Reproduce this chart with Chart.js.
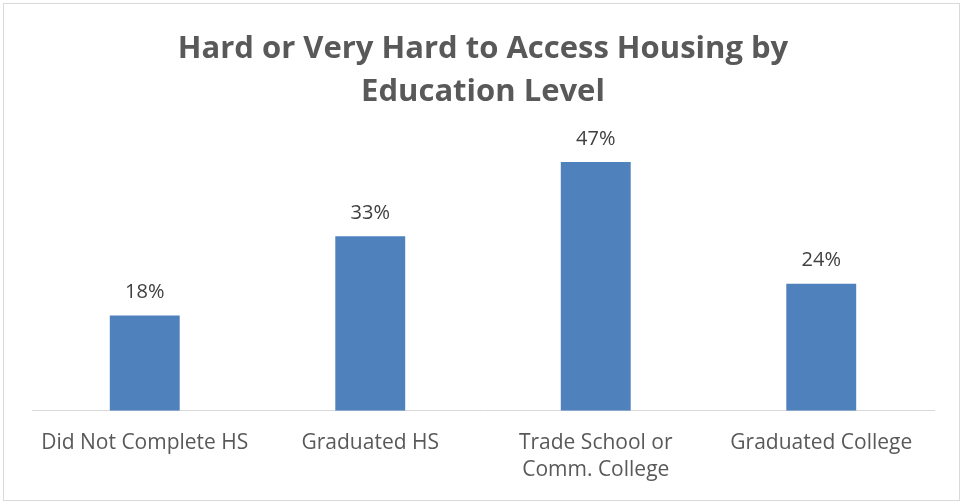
<!DOCTYPE html>
<html>
<head>
<meta charset="utf-8">
<script src="https://cdn.jsdelivr.net/npm/chart.js@4.4.1/dist/chart.umd.min.js"></script>
<style>
  html, body { margin: 0; padding: 0; background: #fff; }
  #wrap { width: 963px; height: 504px; }
</style>
</head>
<body>
<div id="wrap"><canvas id="housing" width="963" height="504"></canvas></div>
<script>
  "use strict";
  var titleLines = ["Hard or Very Hard to Access Housing by", "Education Level"];
  var categories = [
    "Did Not Complete HS",
    "Graduated HS",
    ["Trade School or", "Comm. College"],
    "Graduated College",
  ];
  var hardPct = [18, 33, 47, 24];

  var FONT = '"Open Sans", "DejaVu Sans", sans-serif';
  var GREY = "#595959";

  // light frame round the whole chart
  var frame = {
    id: "frame",
    beforeDraw: function (c) {
      var x = c.ctx;
      x.save();
      x.fillStyle = "#fff";
      x.fillRect(0, 0, c.width, c.height);
      x.strokeStyle = "#d9d9d9";
      x.lineWidth = 1;
      x.strokeRect(3.5, 3.5, c.width - 7, c.height - 7);
      x.restore();
    },
  };

  // percentage printed over each bar
  var valueLabels = {
    id: "valueLabels",
    afterDatasetsDraw: function (c) {
      var x = c.ctx,
        meta = c.getDatasetMeta(0),
        data = c.data.datasets[0].data;
      x.save();
      x.font = "20px " + FONT;
      x.fillStyle = "#404040";
      x.textAlign = "center";
      x.textBaseline = "middle";
      meta.data.forEach(function (bar, i) {
        x.fillText(data[i] + "%", bar.x, bar.y - 23);
      });
      x.restore();
    },
  };

  new Chart(document.getElementById("housing").getContext("2d"), {
    type: "bar",
    data: {
      labels: categories,
      datasets: [
        {
          data: hardPct,
          backgroundColor: "#4f81bd",
          borderWidth: 0,
          barPercentage: 0.31,
          categoryPercentage: 1,
        },
      ],
    },
    options: {
      responsive: false,
      animation: false,
      layout: { padding: { left: 32, right: 29, top: 0, bottom: 1 } },
      plugins: {
        legend: { display: false },
        tooltip: { enabled: false },
        title: {
          display: true,
          text: titleLines,
          color: GREY,
          font: { family: FONT, size: 31, weight: "bold", lineHeight: 1.39 },
          padding: { top: 28, bottom: 32 },
        },
      },
      scales: {
        y: { display: false, min: 0, max: 50 },
        x: {
          grid: { display: false, drawTicks: false },
          border: { display: true, color: "#d9d9d9", width: 1 },
          ticks: {
            color: GREY,
            font: { family: FONT, size: 21, lineHeight: 1.29 },
            padding: 19,
            maxRotation: 0,
            autoSkip: false,
          },
        },
      },
    },
    plugins: [frame, valueLabels],
  });
</script>
</body>
</html>
